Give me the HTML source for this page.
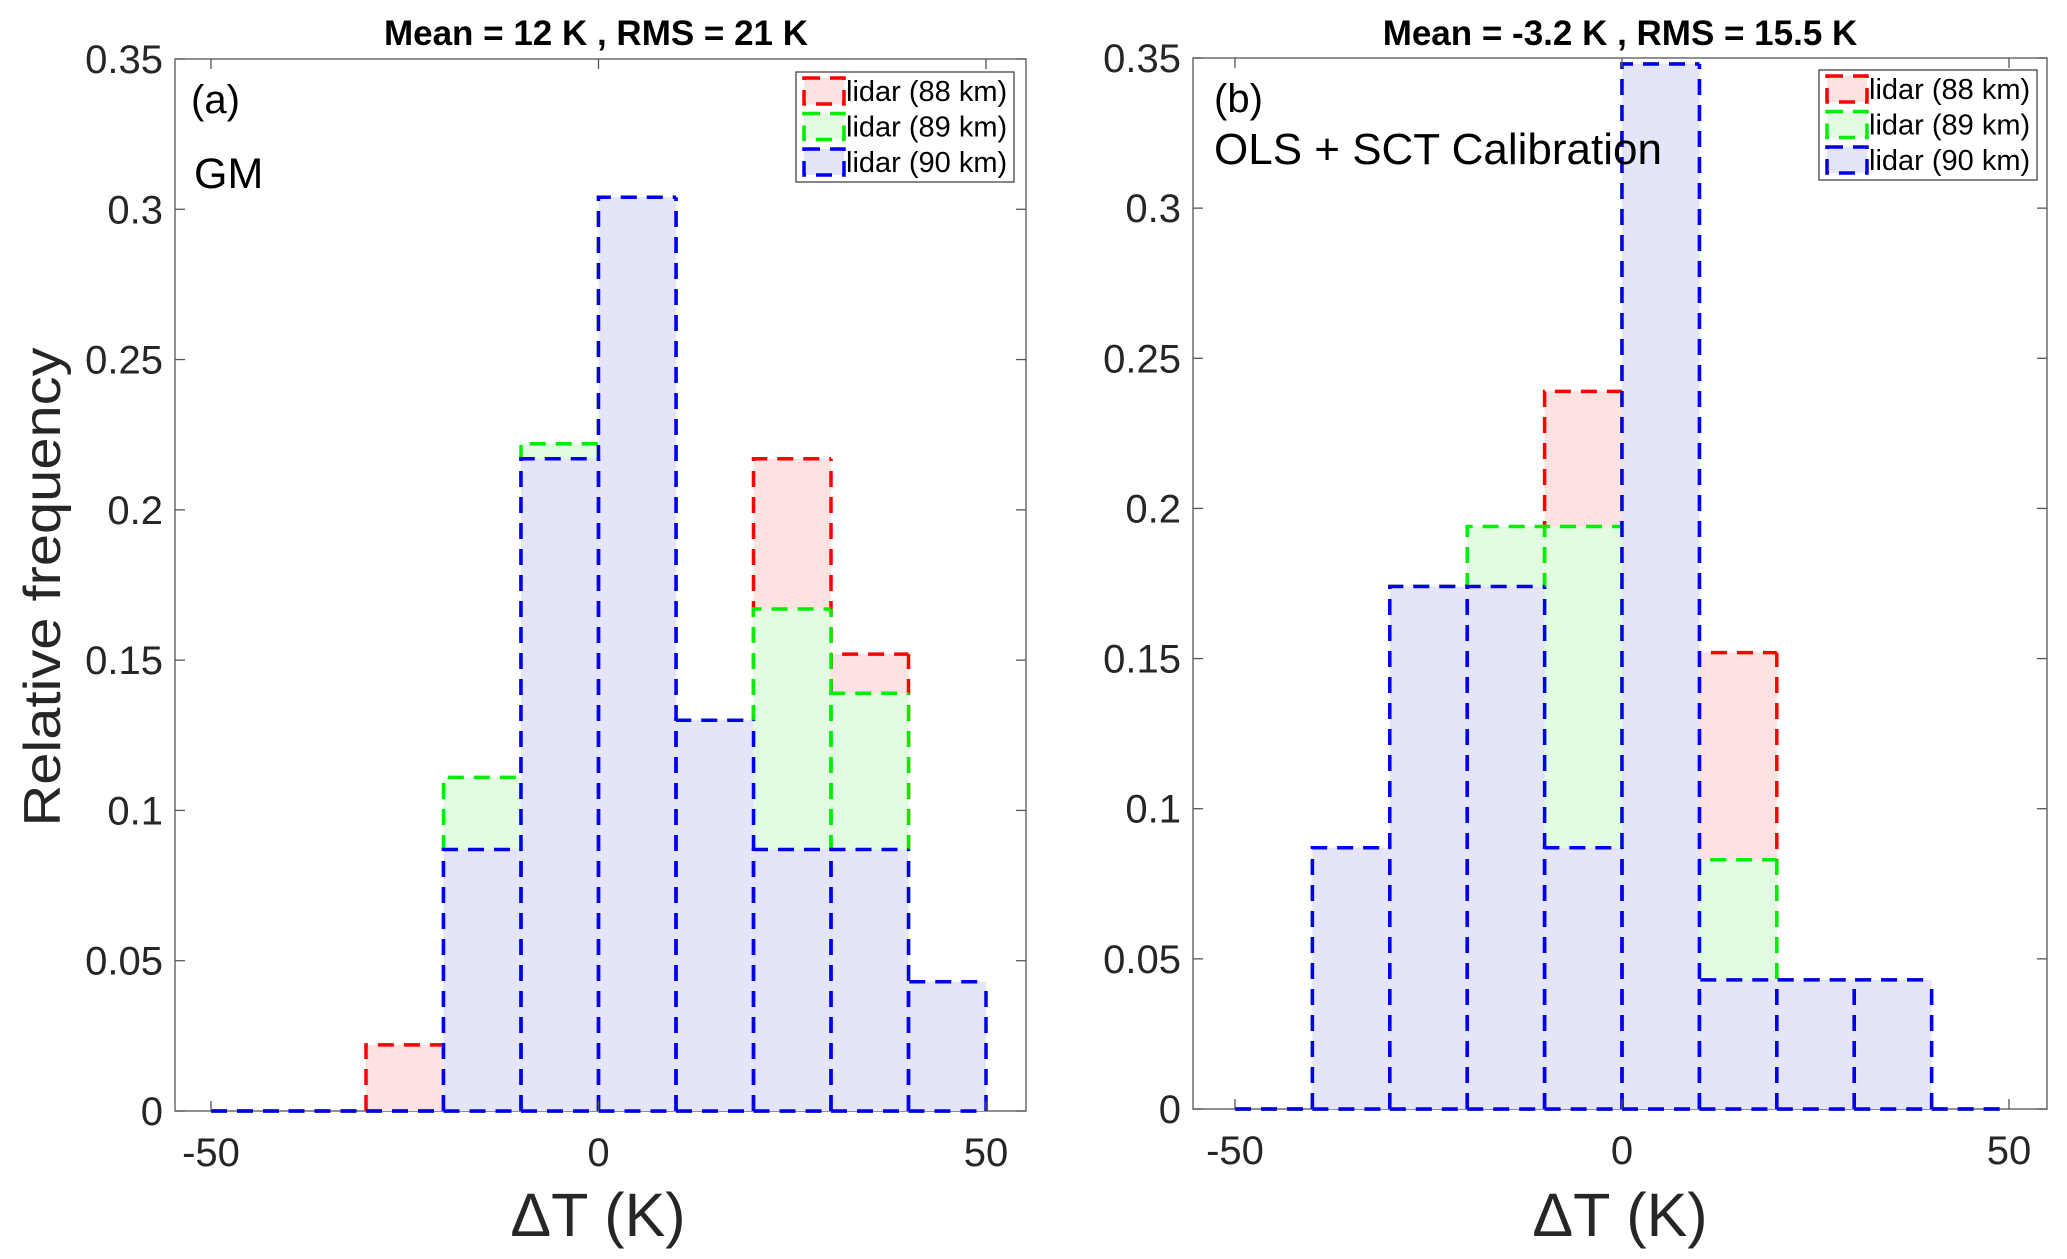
<!DOCTYPE html>
<html><head><meta charset="utf-8"><style>
html,body{margin:0;padding:0;background:#fff;}
svg{display:block;font-family:"Liberation Sans",Arial,sans-serif;}
</style></head><body>
<svg id="chart" width="2067" height="1259" viewBox="0 0 2067 1259" xmlns="http://www.w3.org/2000/svg"></svg>
<script>
const binEdges = [-50,-40,-30,-20,-10,0,10,20,30,40,50];
const yTicks = [0,0.05,0.1,0.15,0.2,0.25,0.3,0.35];
const yTickLabels = ["0","0.05","0.1","0.15","0.2","0.25","0.3","0.35"];
const xTicks = [-50,0,50];
const seriesNames = ["lidar (88 km)","lidar (89 km)","lidar (90 km)"];
const aRed   = [0,0,0.022,0.087,0.217,0.304,0.130,0.217,0.152,0];
const aGreen = [0,0,0,0.111,0.222,0.304,0.130,0.167,0.139,0];
const aBlue  = [0,0,0,0.087,0.217,0.304,0.130,0.087,0.087,0.043];
const bRed   = [0,0.087,0.174,0.174,0.239,0.348,0.152,0.043,0.043,0];
const bGreen = [0,0.087,0.174,0.194,0.194,0.348,0.083,0.043,0.043,0];
const bBlue  = [0,0.087,0.174,0.174,0.087,0.348,0.043,0.043,0.043,0];

const NS="http://www.w3.org/2000/svg";
const svg=document.getElementById('chart');
function mk(tag,attrs,parent){const e=document.createElementNS(NS,tag);for(const k in attrs)e.setAttribute(k,attrs[k]);(parent||svg).appendChild(e);return e;}
const strokes=["#ff0000","#00ee00","#0000ee"];
const fills=["#fde2e2","#e2fce2","#e5e5fa"];

function panel(cfg){
  const g=mk('g',{});
  
  
  const xs=v=>cfg.x0+(v-(-50))/100*(cfg.x50-cfg.x0);
  const ys=v=>cfg.yb-(v/0.35)*(cfg.yb-cfg.yt);
  const box=mk('rect',{x:cfg.L,y:cfg.yt,width:cfg.R-cfg.L,height:cfg.yb-cfg.yt,fill:'none',stroke:'#555','stroke-width':1.3},g);
  
  
  cfg.series.forEach((vals,si)=>{
    const sg=mk('g',{},g);
    
    
    vals.forEach((v,i)=>{
      const x1=xs(binEdges[i]),x2=xs(binEdges[i+1]),y=ys(v),y0=ys(0);
      const r=mk('rect',{x:x1,y:y,width:x2-x1,height:y0-y,fill:fills[si]},sg);
      
      
    });
    vals.forEach((v,i)=>{
      const x1=xs(binEdges[i]),x2=xs(binEdges[i+1]),y=ys(v),y0=ys(0);
      const p=mk('path',{d:`M${x1},${y0}V${y}H${x2}M${x2},${y0}V${y}M${x1},${y0}H${x2}`,fill:'none',stroke:strokes[si],'stroke-width':3.5,'stroke-dasharray':'16 10'},sg);
      
      
    });
  });
  yTicks.forEach((t,i)=>{
    const y=ys(t);
    mk('line',{x1:cfg.L,x2:cfg.L+10,y1:y,y2:y,stroke:'#555','stroke-width':1.3},g);
    mk('line',{x1:cfg.R-10,x2:cfg.R,y1:y,y2:y,stroke:'#555','stroke-width':1.3},g);
    const tl=mk('text',{x:cfg.L-12,y:y+14,'text-anchor':'end','font-size':40,fill:'#262626'},g);
    tl.textContent=yTickLabels[i];
    
    
  });
  xTicks.forEach(t=>{
    const x=xs(t);
    mk('line',{x1:x,x2:x,y1:cfg.yb,y2:cfg.yb-10,stroke:'#555','stroke-width':1.3},g);
    mk('line',{x1:x,x2:x,y1:cfg.yt,y2:cfg.yt+10,stroke:'#555','stroke-width':1.3},g);
    const tl=mk('text',{x:x,y:cfg.yb+55,'text-anchor':'middle','font-size':40,fill:'#262626'},g);
    tl.textContent=String(t);
    
    
  });
  const ti=mk('text',{x:cfg.titleX,y:45,'text-anchor':'middle','font-size':35,'font-weight':'bold',fill:'#000'},g);
  ti.textContent=cfg.title;
  
  
  const xl=mk('text',{x:cfg.xlabX,y:1236,'text-anchor':'middle','font-size':61,fill:'#262626'},g);
  xl.textContent='ΔT (K)';
  
  
  cfg.notes.forEach(n=>{
    const t=mk('text',{x:n[0],y:n[1],'font-size':n[3],fill:'#000'},g);
    t.textContent=n[2];
    
    
  });
  const lg=mk('g',{},g);
  
  
  const [lx,ly,lw,lh]=cfg.legend;
  mk('rect',{x:lx,y:ly,width:lw,height:lh,fill:'#fff',stroke:'#444','stroke-width':1.3},lg);
  seriesNames.forEach((nm,i)=>{
    const cy=ly+19+i*35.5;
    const e=mk('g',{},lg);
    
    
    mk('rect',{x:lx+8,y:cy-13,width:40,height:26,fill:fills[i],stroke:strokes[i],'stroke-width':3.5,'stroke-dasharray':'16 10'},e);
    const t=mk('text',{x:lx+50,y:cy+10,'font-size':29,fill:'#000'},e);
    t.textContent=nm;
  });
}

panel({name:'panel-a',L:175,R:1026,yt:59,yb:1111,x0:211,x50:986,title:'Mean = 12 K , RMS = 21 K',titleX:596,xlabX:598,
  series:[aRed,aGreen,aBlue],legend:[796,72,218,110],
  notes:[[191,113,'(a)',40,'panel-label-a'],[194,188,'GM',43,'annotation-gm']]});
panel({name:'panel-b',L:1193,R:2047,yt:58,yb:1109,x0:1235,x50:2009,title:'Mean = -3.2 K , RMS = 15.5 K',titleX:1620,xlabX:1620,
  series:[bRed,bGreen,bBlue],legend:[1819,70,218,110],
  notes:[[1214,112,'(b)',40,'panel-label-b'],[1214,164,'OLS + SCT Calibration',44,'annotation-calibration']]});

const yl=mk('text',{x:0,y:0,'text-anchor':'middle','font-size':52,fill:'#262626',transform:'translate(60,587) rotate(-90)',textLength:479,lengthAdjust:'spacingAndGlyphs'});
yl.textContent='Relative frequency';


</script>
</body></html>
